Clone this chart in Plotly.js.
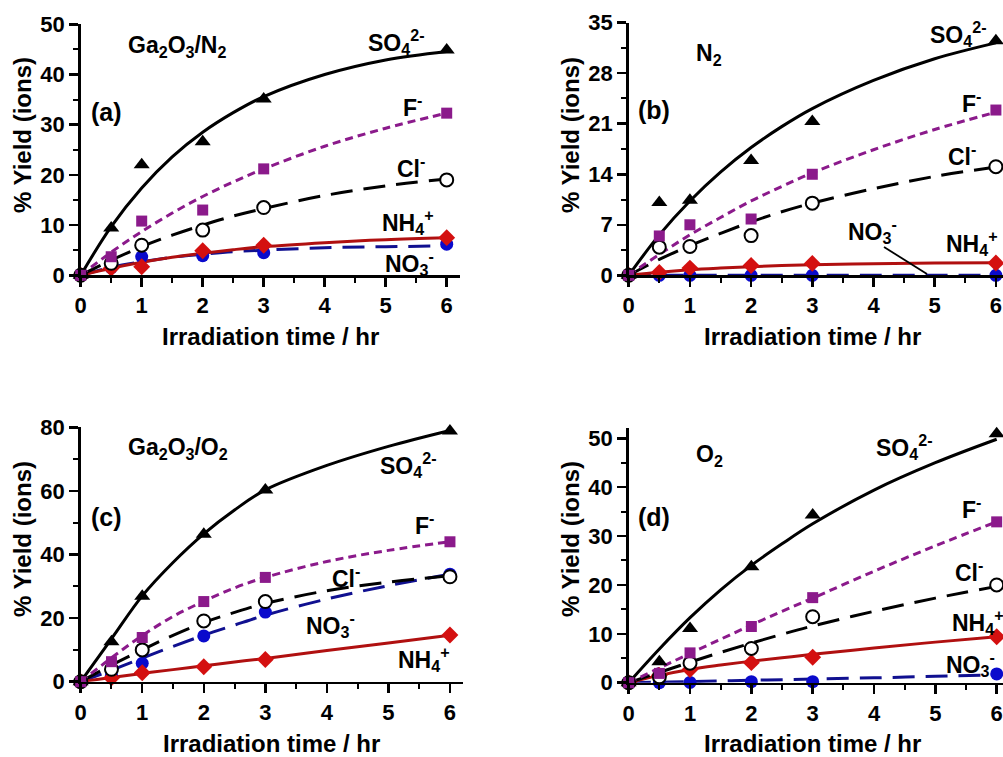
<!DOCTYPE html>
<html>
<head>
<meta charset="utf-8">
<script src="https://cdn.plot.ly/plotly-3.0.1.min.js"></script>
<style>html,body{margin:0;padding:0;background:#fff;}#chart{width:1003px;height:757px;}</style>
</head>
<body>
<div id="chart"></div>
<script>
// ---------- data ----------
const TIME = [0, 0.5, 1, 2, 3, 6];            // measured times (hr)
const FIT_T = [0, 0.5, 1, 1.5, 2, 2.5, 3, 4, 5, 6]; // times where fit curves were read

// panel (a) Ga2O3/N2
const a_SO4 = [0, 9.4, 22.0, 26.6, 35.1, 44.9];
const a_F   = [0, 3.7, 10.8, 13.0, 21.2, 32.3];
const a_Cl  = [0, 2.4, 6.0, 9.0, 13.5, 19.0];
const a_NH4 = [0, 1.4, 1.7, 4.9, 6.0, 7.5];
const a_NO3 = [0, 1.5, 3.7, 3.9, 4.5, 6.2];
const a_SO4_fit = [0, 9.7, 17.4, 23.6, 28.5, 32.4, 35.6, 40.0, 42.9, 44.6];
const a_F_fit   = [0, 4.6, 8.7, 12.4, 15.7, 18.6, 21.2, 25.7, 29.3, 32.3];
const a_Cl_fit  = [0, 3.0, 5.7, 8.0, 10.0, 11.8, 13.3, 15.9, 17.8, 19.2];
const a_NH4_fit = [0, 1.4, 2.6, 3.6, 4.4, 5.1, 5.7, 6.5, 7.1, 7.5];
const a_NO3_fit = [0, 1.6, 2.7, 3.6, 4.2, 4.7, 5.0, 5.5, 5.7, 5.85];

// panel (b) N2
const b_SO4 = [0, 10.1, 10.4, 15.9, 21.3, 32.5];
const b_F   = [0, 5.45, 7.0, 7.8, 14.0, 22.9];
const b_Cl  = [0, 3.9, 4.0, 5.5, 10.0, 15.05];
const b_NH4 = [0, 0.4, 1.0, 1.35, 1.65, 1.7];
const b_NO3 = [0, 0, 0, 0, 0, 0];
const b_SO4_fit = [0, 5.6, 10.3, 14.3, 17.7, 20.6, 23.1, 27.0, 30.0, 32.2];
const b_F_fit   = [0, 2.9, 5.6, 8.0, 10.3, 12.3, 14.2, 17.4, 20.2, 22.6];
const b_Cl_fit  = [0, 2.2, 4.1, 5.8, 7.4, 8.8, 10.0, 12.0, 13.7, 15.0];
const b_NH4_fit = [0, 0.43, 0.76, 1.0, 1.2, 1.35, 1.45, 1.6, 1.7, 1.75];
const b_NO3_fit = [0, 0, 0, 0, 0, 0, 0, 0, 0, 0];

// panel (c) Ga2O3/O2
const c_SO4 = [0, 12.6, 26.9, 46.4, 60.3, 78.8];
const c_F   = [0, 6.3, 13.9, 25.2, 32.8, 44.0];
const c_Cl  = [0, 3.9, 10.0, 19.1, 25.2, 33.0];
const c_NH4 = [0, 1.2, 2.8, 4.7, 7.0, 14.7];
const c_NO3 = [0, 2.0, 5.8, 14.4, 21.9, 33.8];
const c_SO4_fit = [0, 13.5, 27.0, 37.5, 46.5, 54.0, 60.3, 68.0, 74.0, 79.0];
const c_F_fit   = [0, 7.5, 14.5, 20.5, 25.3, 29.5, 32.8, 37.8, 41.3, 44.0];
const c_Cl_fit  = [0, 5.2, 10.0, 14.6, 18.6, 21.8, 24.6, 28.6, 31.3, 33.3];
const c_NH4_fit = [0, 1.3, 2.6, 3.8, 5.0, 6.2, 7.3, 9.8, 12.2, 14.6];
const c_NO3_fit = [0, 3.6, 7.4, 11.1, 14.6, 17.8, 20.9, 26.0, 30.2, 33.8];

// panel (d) O2
const d_SO4 = [0, 4.3, 11.1, 23.7, 34.3, 50.9];
const d_F   = [0, 1.9, 6.1, 11.5, 17.4, 32.9];
const d_Cl  = [0, 1.2, 4.0, 7.0, 13.5, 20.0];
const d_NH4 = [0, 1.5, 2.7, 4.1, 5.2, 9.4];
const d_NO3 = [0, 0, 0.05, 0.2, 0.2, 1.8];
const d_SO4_fit = [0, 6.9, 13.3, 19.0, 24.0, 28.4, 32.5, 39.4, 45.0, 49.8];
const d_F_fit   = [0, 3.0, 6.0, 8.9, 11.8, 14.6, 17.3, 22.8, 28.0, 32.9];
const d_Cl_fit  = [0, 2.1, 4.2, 6.2, 8.1, 9.9, 11.6, 14.6, 17.3, 19.7];
const d_NH4_fit = [0, 1.5, 2.7, 3.6, 4.4, 5.1, 5.8, 7.1, 8.3, 9.4];
const d_NO3_fit = [0, 0.1, 0.2, 0.35, 0.5, 0.6, 0.75, 1.0, 1.3, 1.6];

const X_TICKS = [0, 1, 2, 3, 4, 5, 6];
const X_TITLE = 'Irradiation time / hr';
const Y_TITLE = '% Yield (ions)';

// ---------- styles ----------
const W = 1003, H = 757;
const FONT = 'Liberation Sans, Arial, Helvetica, sans-serif';
const STY = {
  SO4: {line: {color: '#000000', width: 3, dash: 'solid'}, marker: {symbol: 'triangle-up', size: 14, color: '#000000'}},
  F:   {line: {color: '#8B1A8B', width: 3, dash: '8px,5px'}, marker: {symbol: 'square', size: 11, color: '#8B1A8B'}},
  Cl:  {line: {color: '#000000', width: 3, dash: '22px,11px'}, marker: {symbol: 'circle', size: 13, color: '#ffffff', line: {color: '#000000', width: 2}}},
  NH4: {line: {color: '#B01010', width: 3, dash: 'solid'}, marker: {symbol: 'diamond', size: 13, color: '#D41010'}},
  NO3: {line: {color: '#101090', width: 3, dash: '22px,11px'}, marker: {symbol: 'circle', size: 13, color: '#0A0ACC'}}
};

const panels = [
  {xa: 'x',  ya: 'y',  d: {SO4: a_SO4, F: a_F, Cl: a_Cl, NH4: a_NH4, NO3: a_NO3},
   f: {SO4: a_SO4_fit, F: a_F_fit, Cl: a_Cl_fit, NH4: a_NH4_fit, NO3: a_NO3_fit}},
  {xa: 'x2', ya: 'y2', d: {SO4: b_SO4, F: b_F, Cl: b_Cl, NH4: b_NH4, NO3: b_NO3},
   f: {SO4: b_SO4_fit, F: b_F_fit, Cl: b_Cl_fit, NH4: b_NH4_fit, NO3: b_NO3_fit}},
  {xa: 'x3', ya: 'y3', d: {SO4: c_SO4, F: c_F, Cl: c_Cl, NH4: c_NH4, NO3: c_NO3},
   f: {SO4: c_SO4_fit, F: c_F_fit, Cl: c_Cl_fit, NH4: c_NH4_fit, NO3: c_NO3_fit}},
  {xa: 'x4', ya: 'y4', d: {SO4: d_SO4, F: d_F, Cl: d_Cl, NH4: d_NH4, NO3: d_NO3},
   f: {SO4: d_SO4_fit, F: d_F_fit, Cl: d_Cl_fit, NH4: d_NH4_fit, NO3: d_NO3_fit}}
];

const lineOrder = ['NO3', 'NH4', 'Cl', 'F', 'SO4'];
const markerOrder = ['NO3', 'NH4', 'Cl', 'SO4', 'F'];
const traces = [];
panels.forEach(p => {
  lineOrder.forEach(k => {
    traces.push({x: FIT_T, y: p.f[k], xaxis: p.xa, yaxis: p.ya, mode: 'lines',
      line: Object.assign({shape: 'spline', smoothing: 1}, STY[k].line), cliponaxis: false, hoverinfo: 'skip'});
  });
  markerOrder.forEach(k => {
    traces.push({x: TIME, y: p.d[k], xaxis: p.xa, yaxis: p.ya, mode: 'markers',
      marker: STY[k].marker, cliponaxis: false});
  });
});

// ---------- axes ----------
const tickfont = {family: FONT, size: 22, color: '#000', weight: 'bold'};
function xax(domain, rmax, anchor) {
  return {domain: domain, range: [0, rmax], anchor: anchor, tickvals: X_TICKS, showline: true, linecolor: '#000',
    linewidth: 2.5, ticks: 'outside', ticklen: 9, tickwidth: 2.5, tickcolor: '#000', showgrid: false, zeroline: false,
    tickfont: tickfont, fixedrange: true,
    minor: {dtick: 0.5, tick0: 0, ticks: 'outside', ticklen: 5, tickwidth: 2, tickcolor: '#000', showgrid: false}};
}
function yax(domain, rmax, dt, anchor) {
  return {domain: domain, range: [0, rmax], anchor: anchor, dtick: dt, tick0: 0, showline: true, linecolor: '#000',
    linewidth: 2.5, ticks: 'outside', ticklen: 9, tickwidth: 2.5, tickcolor: '#000', showgrid: false, zeroline: false,
    tickfont: tickfont, fixedrange: true,
    minor: {dtick: dt / 2, tick0: 0, ticks: 'outside', ticklen: 5, tickwidth: 2, tickcolor: '#000', showgrid: false}};
}
const fx = v => v / W, fy = v => 1 - v / H;

// ---------- text ----------
const annFont = {family: FONT, size: 23, color: '#000', weight: 'bold'};
function lab(text, x, y, size) {
  return {text: text, xref: 'paper', yref: 'paper', x: fx(x), y: fy(y), xanchor: 'left', yanchor: 'middle',
    showarrow: false, font: Object.assign({}, annFont, size ? {size: size} : {})};
}
function xt(cx, cy) {
  return {text: X_TITLE, xref: 'paper', yref: 'paper', x: fx(cx), y: fy(cy), xanchor: 'center', yanchor: 'middle',
    showarrow: false, font: Object.assign({}, annFont, {size: 24})};
}
function yt(cx, cy) {
  return {text: Y_TITLE, xref: 'paper', yref: 'paper', x: fx(cx), y: fy(cy), xanchor: 'center', yanchor: 'middle',
    textangle: -90, showarrow: false, font: Object.assign({}, annFont, {size: 24})};
}
const SO4 = 'SO<sub>4</sub><sup>2-</sup>', F = 'F<sup>-</sup>', CL = 'Cl<sup>-</sup>',
      NH4 = 'NH<sub>4</sub><sup>+</sup>', NO3 = 'NO<sub>3</sub><sup>-</sup>';

const annotations = [
  // (a)
  lab('Ga<sub>2</sub>O<sub>3</sub>/N<sub>2</sub>', 126, 47), lab('(a)', 89, 112, 25), lab(SO4, 366, 42),
  lab(F, 401, 106), lab(CL, 395, 167), lab(NH4, 380, 222), lab(NO3, 383, 263),
  // (b)
  lab('N<sub>2</sub>', 694, 55), lab('(b)', 636, 110, 25), lab(SO4, 928, 34),
  lab(F, 960, 102), lab(CL, 946, 155), lab(NO3, 846, 231), lab(NH4, 944, 243),
  // (c)
  lab('Ga<sub>2</sub>O<sub>3</sub>/O<sub>2</sub>', 126, 448), lab('(c)', 89, 517, 25), lab(SO4, 378, 465),
  lab(F, 413, 524), lab(CL, 330, 577), lab(NO3, 304, 625), lab(NH4, 396, 659),
  // (d)
  lab('O<sub>2</sub>', 694, 455), lab('(d)', 636, 517, 25), lab(SO4, 874, 447),
  lab(F, 960, 508), lab(CL, 953, 571), lab(NH4, 950, 622), lab(NO3, 944, 664),
  // axis titles
  xt(270, 336), xt(812, 336), xt(271, 743), xt(812, 743),
  yt(22, 135), yt(570, 135), yt(22, 539), yt(570, 539)
];

const layout = {
  width: W, height: H, margin: {l: 0, r: 0, t: 0, b: 0}, showlegend: false,
  paper_bgcolor: '#fff', plot_bgcolor: 'rgba(0,0,0,0)',
  font: {family: FONT, color: '#000'},
  xaxis:  xax([fx(80.7), fx(460)], 6.218, 'y'),
  yaxis:  yax([fy(275.3), fy(24.3)], 50, 10, 'x'),
  xaxis2: xax([fx(628.7), 1], 6.116, 'y2'),
  yaxis2: yax([fy(275.3), fy(22.7)], 35, 7, 'x2'),
  xaxis3: xax([fx(80.7), fx(463)], 6.212, 'y3'),
  yaxis3: yax([fy(681.7), fy(427.3)], 80, 20, 'x3'),
  xaxis4: xax([fx(628.7), 1], 6.103, 'y4'),
  yaxis4: yax([fy(682.7), fy(428)], 52.1, 10, 'x4'),
  annotations: annotations,
  shapes: [
    {type: 'line', xref: 'paper', yref: 'paper', x0: fx(884), y0: fy(247), x1: fx(927), y1: fy(274),
     line: {color: '#000', width: 1.8}}
  ]
};

Plotly.newPlot('chart', traces, layout, {displayModeBar: false, staticPlot: true});
</script>
</body>
</html>
